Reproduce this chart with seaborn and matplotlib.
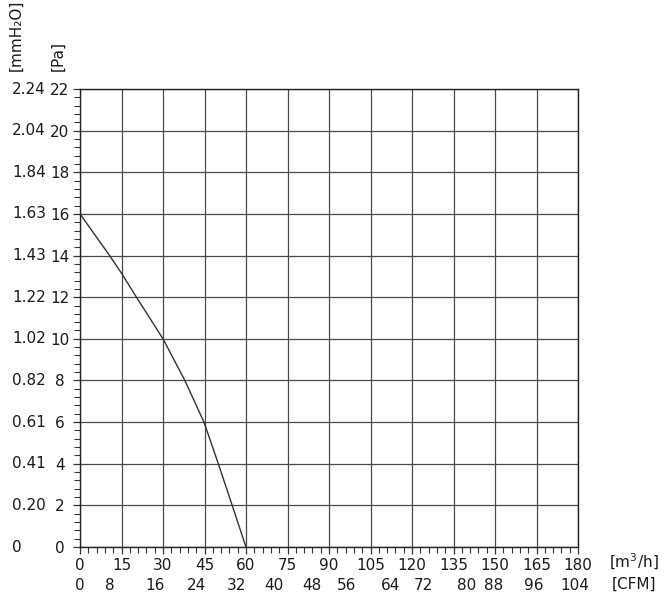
import numpy as np
import pandas as pd
import matplotlib
matplotlib.use("Agg")
import matplotlib.pyplot as plt
import seaborn as sns
from matplotlib.ticker import MultipleLocator
from matplotlib.transforms import blended_transform_factory

# fan curve
flow_m3h = [0, 10.7, 15, 20.4, 30, 37.9, 44.8, 50, 55, 60]
pressure_pa = [16, 14, 13.15, 12, 10, 8, 6, 4, 2, 0]

x_ticks = list(range(0, 181, 15))
cfm_labels = ['0', '8', '16', '24', '32', '40', '48', '56', '64', '72', '80', '88', '96', '104']
# where the CFM labels sit, in m3/h (they are not evenly spaced in the original)
cfm_pos = [0, 10.8, 27.1, 42.2, 56.6, 69.9, 83.8, 96.4, 112.1, 124.1, 139.8, 149.4, 163.9, 178.9]
pa_ticks = list(range(0, 23, 2))
mmh2o_labels = ['0', '0.20', '0.41', '0.61', '0.82', '1.02', '1.22', '1.43', '1.63', '1.84', '2.04', '2.24']

df = pd.DataFrame({'flow': flow_m3h, 'pressure': pressure_pa})

sns.set_style('white')
plt.rcParams['font.family'] = ['DejaVu Sans']
txt_color = '#1a1a1a'

fig = plt.figure(figsize=(6.67, 5.97), dpi=100)
ax = fig.add_axes([80 / 667, 50 / 597, 498 / 667, 458 / 597])

sns.lineplot(data=df, x='flow', y='pressure', ax=ax, color='#333333', lw=1.0)

ax.set_xlim(0, 180)
ax.set_ylim(0, 22)
ax.set_xticks(x_ticks)
ax.set_xticklabels([str(v) for v in x_ticks])
ax.set_yticks(pa_ticks)
ax.set_yticklabels([str(v) for v in pa_ticks])
ax.xaxis.set_minor_locator(MultipleLocator(3))
ax.yaxis.set_minor_locator(MultipleLocator(0.4))
ax.tick_params(which='major', direction='out', length=5, width=0.9, color='#333333',
               labelsize=11, labelcolor=txt_color)
ax.tick_params(axis='x', which='major', pad=3)
ax.tick_params(axis='y', which='major', pad=9.5)
ax.tick_params(which='minor', direction='out', length=4, width=0.8, color='#333333')
ax.tick_params(left=True, bottom=True, which='both')
for lab in ax.get_yticklabels():
    lab.set_horizontalalignment('center')

ax.grid(True, which='major', color='#4a4a4a', lw=0.9)
ax.set_axisbelow(True)
for s in ax.spines.values():
    s.set_color('#222222')
    s.set_linewidth(1.0)
ax.set_xlabel('')
ax.set_ylabel('')

# second row of x labels (CFM)
tx = blended_transform_factory(ax.transData, ax.transAxes)
for v, lab in zip(cfm_pos, cfm_labels):
    ax.text(v, -38 / 458, lab, transform=tx, ha='center', va='center',
            fontsize=11, color=txt_color)

# mmH2O column on the left
ty = blended_transform_factory(fig.transFigure, ax.transData)
for v, lab in zip(pa_ticks, mmh2o_labels):
    ax.text(12 / 667, v, lab, transform=ty, ha='left', va='center',
            fontsize=11, color=txt_color)

# unit labels
fig.text(634 / 667, (597 - 562) / 597, '[m$^3$/h]', ha='center', va='center',
         fontsize=11, color=txt_color)
fig.text(634 / 667, (597 - 584) / 597, '[CFM]', ha='center', va='center',
         fontsize=11, color=txt_color)
fig.text(16 / 667, (597 - 71) / 597, '[mmH₂O]', rotation=90, ha='center', va='bottom',
         fontsize=11, color=txt_color)
fig.text(58 / 667, (597 - 71) / 597, '[Pa]', rotation=90, ha='center', va='bottom',
         fontsize=11, color=txt_color)

fig.savefig('out.png', dpi=100)
